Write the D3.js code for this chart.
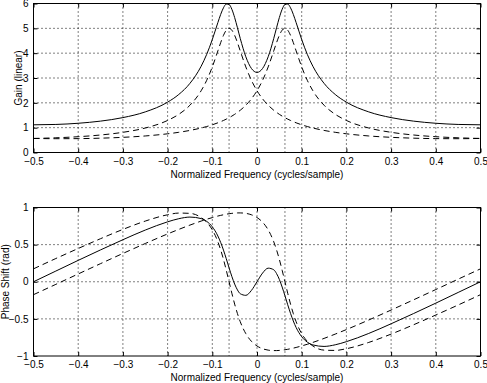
<!DOCTYPE html>
<html>
<head>
<meta charset="utf-8">
<script src="https://cdn.jsdelivr.net/npm/d3@7"></script>
<style>
  body { margin: 0; background: #fff; }
  svg text { font-family: "Liberation Sans", Arial, Helvetica, sans-serif; font-size: 10px; fill: #000; }
</style>
</head>
<body>
<div id="chart"></div>
<script>
// normalized frequency (cycles/sample), denser around the resonances
let freq = [-0.5, -0.45, -0.4, -0.35, -0.3, -0.25, -0.2, -0.175, -0.15, -0.125, -0.1125, -0.1,
  -0.0875, -0.08125, -0.075, -0.06875, -0.0625, -0.05625, -0.05, -0.04375, -0.0375, -0.025, -0.0125,
  0, 0.0125, 0.025, 0.0375, 0.04375, 0.05, 0.05625, 0.0625, 0.06875, 0.075, 0.08125, 0.0875, 0.1,
  0.1125, 0.125, 0.15, 0.175, 0.2, 0.25, 0.3, 0.35, 0.4, 0.45, 0.5];

// gain (linear): sum of both resonators, then each resonator alone
let gainSum = [1.115, 1.130, 1.177, 1.264, 1.405, 1.635, 2.027, 2.337, 2.785, 3.472, 3.953, 4.550,
  5.233, 5.561, 5.827, 5.975, 5.959, 5.767, 5.434, 5.023, 4.595, 3.855, 3.384,
  3.225, 3.384, 3.855, 4.595, 5.023, 5.434, 5.767, 5.959, 5.975, 5.827, 5.561, 5.233, 4.550,
  3.953, 3.472, 2.785, 2.337, 2.027, 1.635, 1.405, 1.264, 1.177, 1.130, 1.115];
let gainRes1 = [0.566, 0.556, 0.559, 0.577, 0.611, 0.666, 0.753, 0.813, 0.889, 0.986, 1.046, 1.115,
  1.196, 1.241, 1.290, 1.344, 1.402, 1.466, 1.537, 1.615, 1.701, 1.904, 2.160,
  2.486, 2.907, 3.446, 4.093, 4.424, 4.718, 4.925, 5.000, 4.925, 4.718, 4.424, 4.093, 3.446,
  2.907, 2.486, 1.904, 1.537, 1.290, 0.986, 0.813, 0.705, 0.636, 0.592, 0.566];
let gainRes2 = [0.566, 0.592, 0.636, 0.705, 0.813, 0.986, 1.290, 1.537, 1.904, 2.486, 2.907, 3.446,
  4.093, 4.424, 4.718, 4.925, 5.000, 4.925, 4.718, 4.424, 4.093, 3.446, 2.907,
  2.486, 2.160, 1.904, 1.701, 1.615, 1.537, 1.466, 1.402, 1.344, 1.290, 1.241, 1.196, 1.115,
  1.046, 0.986, 0.889, 0.813, 0.753, 0.666, 0.611, 0.577, 0.559, 0.556, 0.566];

// phase shift (rad)
let phaseSum = [0, 0.144, 0.288, 0.429, 0.566, 0.696, 0.807, 0.849, 0.871, 0.851, 0.813, 0.740,
  0.616, 0.529, 0.426, 0.310, 0.188, 0.071, -0.031, -0.110, -0.161, -0.183, -0.117,
  0, 0.117, 0.183, 0.161, 0.110, 0.031, -0.071, -0.188, -0.310, -0.426, -0.529, -0.616, -0.740,
  -0.813, -0.851, -0.871, -0.849, -0.807, -0.696, -0.566, -0.429, -0.288, -0.144, 0];
let phaseRes1 = [-0.174, -0.035, 0.105, 0.244, 0.381, 0.515, 0.644, 0.705, 0.763, 0.817, 0.842, 0.864,
  0.885, 0.894, 0.902, 0.910, 0.916, 0.921, 0.925, 0.927, 0.927, 0.921, 0.902,
  0.865, 0.802, 0.699, 0.538, 0.429, 0.301, 0.155, 0, -0.155, -0.301, -0.429, -0.538, -0.699,
  -0.802, -0.865, -0.921, -0.925, -0.902, -0.817, -0.705, -0.580, -0.448, -0.313, -0.174];
let phaseRes2 = [0.174, 0.313, 0.448, 0.580, 0.705, 0.817, 0.902, 0.925, 0.921, 0.865, 0.802, 0.699,
  0.538, 0.429, 0.301, 0.155, 0, -0.155, -0.301, -0.429, -0.538, -0.699, -0.802,
  -0.865, -0.902, -0.921, -0.927, -0.927, -0.925, -0.921, -0.916, -0.910, -0.902, -0.894, -0.885, -0.864,
  -0.842, -0.817, -0.763, -0.705, -0.644, -0.515, -0.381, -0.244, -0.105, 0.035, 0.174];

// ticks and extra grid lines at the resonance frequencies
let freqTicks = [-0.5, -0.4, -0.3, -0.2, -0.1, 0, 0.1, 0.2, 0.3, 0.4, 0.5];
let resFreqs = [-0.0625, 0.0625];
let gainTicks = [0, 1, 2, 3, 4, 5, 6];
let phaseTicks = [-1, -0.5, 0, 0.5, 1];

let width = 487;
let height = 383;

let svg = d3
  .select("#chart")
  .append("svg")
  .attr("width", width)
  .attr("height", height);

svg.append("rect").attr("width", width).attr("height", height).attr("fill", "#fff");

let x = d3.scaleLinear().domain([-0.5, 0.5]).range([33.5, 480.5]);

function makePanel(top, bottom, yDomain, yTicks, yLabel, yLabelX, lines) {
  let y = d3.scaleLinear().domain(yDomain).range([bottom, top]);
  let g = svg.append("g");

  // dotted grid
  let gridX = freqTicks.slice(1, -1).concat(resFreqs);
  g.selectAll(".gx")
    .data(gridX)
    .enter()
    .append("line")
    .attr("x1", d => x(d))
    .attr("x2", d => x(d))
    .attr("y1", top)
    .attr("y2", bottom)
    .attr("stroke", "#000")
    .attr("stroke-width", 1)
    .attr("stroke-dasharray", "1,3");

  g.selectAll(".gy")
    .data(yTicks.slice(1, -1))
    .enter()
    .append("line")
    .attr("x1", x.range()[0])
    .attr("x2", x.range()[1])
    .attr("y1", d => y(d))
    .attr("y2", d => y(d))
    .attr("stroke", "#000")
    .attr("stroke-width", 1)
    .attr("stroke-dasharray", "1,3");

  // curves
  lines.forEach(function(s) {
    let line = d3
      .line()
      .x((d, i) => x(freq[i]))
      .y(d => y(d))
      .curve(d3.curveMonotoneX);
    g.append("path")
      .datum(s.values)
      .attr("d", line)
      .attr("fill", "none")
      .attr("stroke", "#000")
      .attr("stroke-width", 1)
      .attr("stroke-dasharray", s.dash);
  });

  // axes, ticks pointing inward on all four sides
  let fmt = d => (d === 0 ? "0" : d3.format("")(d));

  g.append("g")
    .attr("transform", "translate(0," + bottom + ")")
    .call(d3.axisBottom(x).tickValues(freqTicks).tickFormat(fmt).tickSizeInner(-4).tickSizeOuter(0).tickPadding(5));
  g.append("g")
    .attr("transform", "translate(0," + top + ")")
    .call(d3.axisTop(x).tickValues(freqTicks).tickFormat("").tickSizeInner(-4).tickSizeOuter(0));
  g.append("g")
    .attr("transform", "translate(" + x.range()[0] + ",0)")
    .call(d3.axisLeft(y).tickValues(yTicks).tickFormat(fmt).tickSizeInner(-4).tickSizeOuter(0).tickPadding(5));
  g.append("g")
    .attr("transform", "translate(" + x.range()[1] + ",0)")
    .call(d3.axisRight(y).tickValues(yTicks).tickFormat("").tickSizeInner(-4).tickSizeOuter(0));

  g.selectAll(".domain").remove();
  g.selectAll(".tick line").attr("stroke", "#000");
  g.selectAll(".tick text")
    .attr("font-family", null)
    .attr("font-size", null);

  g.append("rect")
    .attr("x", x.range()[0])
    .attr("y", top)
    .attr("width", x.range()[1] - x.range()[0])
    .attr("height", bottom - top)
    .attr("fill", "none")
    .attr("stroke", "#000")
    .attr("stroke-width", 1);

  g.append("text")
    .attr("x", (x.range()[0] + x.range()[1]) / 2)
    .attr("y", bottom + 25)
    .attr("text-anchor", "middle")
    .text("Normalized Frequency (cycles/sample)");

  g.append("text")
    .attr("transform", "translate(" + yLabelX + "," + (top + bottom) / 2 + ") rotate(-90)")
    .attr("text-anchor", "middle")
    .text(yLabel);
}

makePanel(3.5, 152.5, [0, 6], gainTicks, "Gain (linear)", 21.5, [
  { values: gainSum, dash: null },
  { values: gainRes1, dash: "6,4" },
  { values: gainRes2, dash: "6,4" }
]);

makePanel(207.5, 356, [-1, 1], phaseTicks, "Phase Shift (rad)", 8.5, [
  { values: phaseSum, dash: null },
  { values: phaseRes1, dash: "6,4" },
  { values: phaseRes2, dash: "6,4" }
]);
</script>
</body>
</html>
